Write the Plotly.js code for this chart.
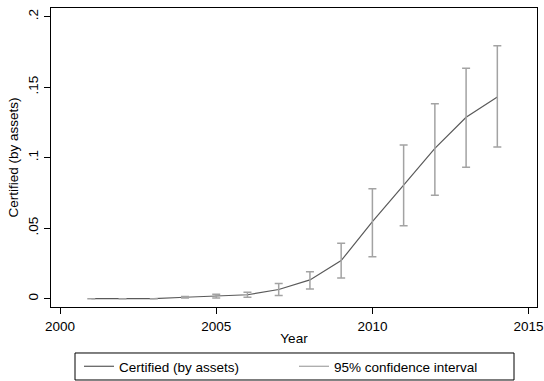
<!DOCTYPE html>
<html>
<head>
<meta charset="utf-8">
<script src="https://cdn.plot.ly/plotly-3.0.1.min.js"></script>
<style>html,body{margin:0;padding:0;background:#fff;}#chart{width:544px;height:381px;}</style>
</head>
<body>
<div id="chart"></div>
<script>
var years = [2001, 2002, 2003, 2004, 2005, 2006, 2007, 2008, 2009, 2010, 2011, 2012, 2013, 2014];
var certified = [0.0000, 0.0000, 0.0000, 0.0010, 0.0019, 0.0028, 0.0065, 0.0133, 0.0270, 0.0546, 0.0806, 0.1066, 0.1287, 0.1430];
var ciLow = [0.0000, 0.0000, 0.0000, 0.0005, 0.0004, 0.0010, 0.0022, 0.0069, 0.0147, 0.0298, 0.0518, 0.0733, 0.0932, 0.1076];
var ciHigh = [0.0000, 0.0000, 0.0000, 0.0015, 0.0032, 0.0046, 0.0108, 0.0191, 0.0393, 0.0780, 0.1090, 0.1383, 0.1634, 0.1794];
var yTickVals = [0, 0.05, 0.1, 0.15, 0.2];
var yTickText = ["0", ".05", ".1", ".15", ".2"];
var xTickVals = [2000, 2005, 2010, 2015];

var ciColor = '#a3a3a3';
var lineColor = '#5a5a5a';

var ciMid = years.map(function(_, i){ return (ciLow[i] + ciHigh[i]) / 2; });
var ciPlus = years.map(function(_, i){ return ciHigh[i] - ciMid[i]; });
var ciMinus = years.map(function(_, i){ return ciMid[i] - ciLow[i]; });

var traces = [
  {
    x: years, y: certified, type: 'scatter', mode: 'lines',
    name: 'Certified (by assets)',
    line: {color: lineColor, width: 1.2},
    showlegend: true
  },
  {
    x: years, y: ciMid, type: 'scatter', mode: 'markers',
    marker: {size: 1, opacity: 0, color: ciColor},
    error_y: {type: 'data', symmetric: false, array: ciPlus, arrayminus: ciMinus,
              color: ciColor, thickness: 1.5, width: 4},
    showlegend: false, hoverinfo: 'skip'
  },
  {
    x: [null], y: [null], type: 'scatter', mode: 'lines',
    name: '95% confidence interval',
    line: {color: ciColor, width: 1.2},
    showlegend: true
  }
];

var font = {family: 'Liberation Sans, Arial, sans-serif', size: 13.5, color: '#000'};

var layout = {
  width: 544, height: 381,
  margin: {l: 51, r: 7, t: 8, b: 74, autoexpand: false},
  paper_bgcolor: '#fff', plot_bgcolor: '#fff',
  font: font,
  showlegend: true,
  xaxis: {
    range: [1999.71, 2015.27],
    tickvals: xTickVals, ticktext: xTickVals.map(String),
    ticks: 'outside', ticklen: 6, tickwidth: 1, tickcolor: '#000',
    showline: true, linecolor: '#000', linewidth: 1.3, mirror: true,
    showgrid: false, zeroline: false,
    title: {text: 'Year', font: font, standoff: 1},
    tickfont: font
  },
  yaxis: {
    range: [-0.0059, 0.2062],
    tickvals: yTickVals, ticktext: yTickText,
    tickangle: -90,
    ticks: 'outside', ticklen: 6, tickwidth: 1, tickcolor: '#000',
    showline: true, linecolor: '#000', linewidth: 1.3, mirror: true,
    showgrid: false, zeroline: false,
    title: {text: 'Certified (by assets)', font: font, standoff: 4},
    tickfont: font
  },
  legend: {
    orientation: 'h', x: 0.5, xanchor: 'center', y: -0.199, yanchor: 'middle',
    borderwidth: 0, bgcolor: 'rgba(0,0,0,0)',
    font: font, entrywidth: 170, itemwidth: 30
  },
  shapes: [
    {type: 'rect', xref: 'paper', yref: 'paper',
     x0: 0.0494, x1: 0.9527, y0: -0.2441, y1: -0.1538,
     line: {color: '#000', width: 1}, fillcolor: 'rgba(0,0,0,0)'}
  ]
};

Plotly.newPlot('chart', traces, layout, {displayModeBar: false, staticPlot: true});
</script>
</body>
</html>
